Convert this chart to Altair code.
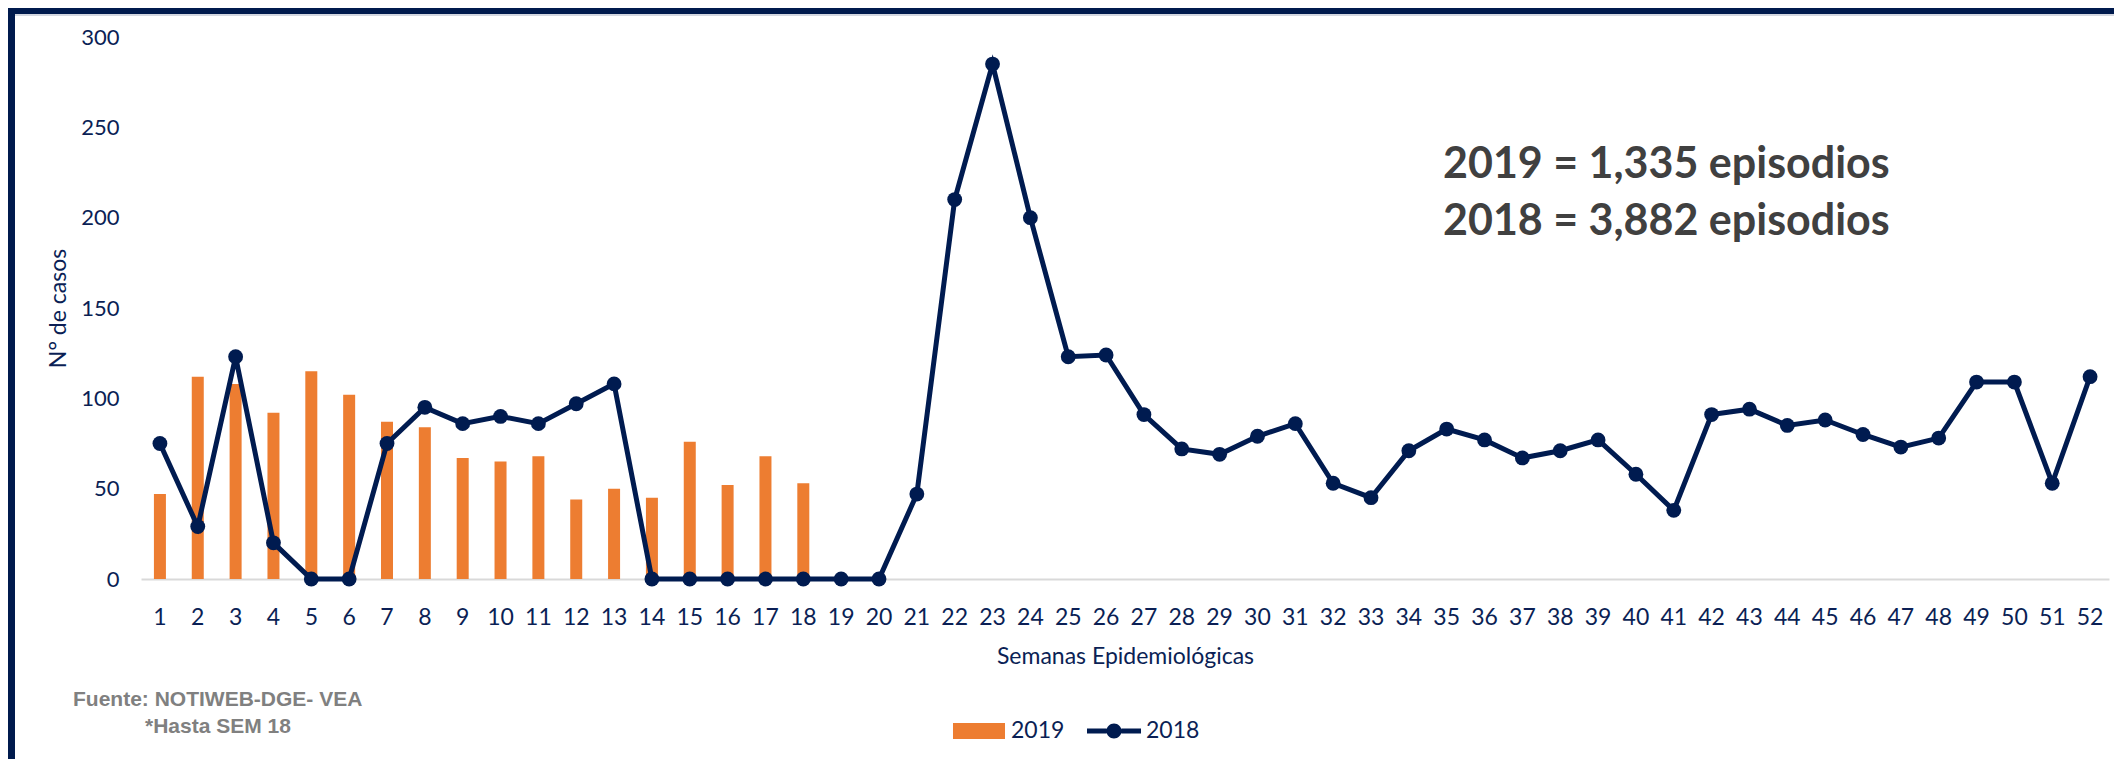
import altair as alt
import pandas as pd

# ---- data ----
weeks = [str(i) for i in range(1, 53)]
cases_2019 = [47, 112, 108, 92, 115, 102, 87, 84, 67, 65, 68, 44, 50, 45, 76, 52, 68, 53]
cases_2018 = [75, 29, 123, 20, 0, 0, 75, 95, 86, 90, 86, 97, 108,
              0, 0, 0, 0, 0, 0, 0,
              47, 210, 285, 200, 123, 124,
              91, 72, 69, 79, 86, 53, 45, 71, 83, 77, 67, 71, 77,
              58, 38, 91, 94, 85, 88, 80, 73, 78, 109, 109, 53, 112]
series_names = ["2019", "2018"]
y_ticks = [0, 50, 100, 150, 200, 250, 300]
summary_lines = ["2019 = 1,335 episodios", "2018 = 3,882 episodios"]
source_line1 = "Fuente: NOTIWEB-DGE- VEA"
source_line2 = "*Hasta SEM 18"
x_title = "Semanas Epidemiológicas"
y_title = "N° de casos"

# ---- styling ----
ORANGE = "#ED7D31"
NAVY = "#0B1F55"
LINE_NAVY = "#001B50"
BORDER = "#001A4D"
FONT = "Lato"

W, H = 1968, 542
PAD = {"left": 133, "top": 29, "right": 5, "bottom": 180}

bars_df = pd.DataFrame({"semana": weeks[:len(cases_2019)], "casos": cases_2019, "serie": series_names[0]})
line_df = pd.DataFrame({"semana": weeks, "casos": cases_2018, "serie": series_names[1]})
all_df = pd.concat([bars_df, line_df], ignore_index=True)
one = pd.DataFrame({"k": [0]})

x_enc = alt.X(
    "semana:O",
    sort=weeks,
    scale=alt.Scale(type="band", domain=weeks, paddingInner=0, paddingOuter=0),
    axis=alt.Axis(
        title=x_title, labelAngle=0, ticks=False, tickSize=0, grid=False,
        domainColor="#D9D9D9", domainWidth=2,
        labelPadding=38, labelBaseline="middle", labelFont=FONT, labelFontSize=23,
        labelColor=NAVY, titleFont=FONT, titleFontSize=23, titleFontWeight="normal",
        titleColor=NAVY, titleX=W / 2, titleY=77, titleBaseline="middle", titleAlign="center",
    ),
)
y_enc = alt.Y(
    "casos:Q",
    scale=alt.Scale(domain=[0, 300], nice=False),
    axis=alt.Axis(
        title=y_title, values=y_ticks, domain=False, ticks=False, tickSize=0, grid=False,
        labelPadding=22, labelFont=FONT, labelFontSize=22, labelColor=NAVY,
        titleFont=FONT, titleFontSize=23, titleFontWeight="normal", titleColor=NAVY,
        titleX=-83, titleY=H / 2, titleAngle=270, titleBaseline="middle", titleAlign="center",
    ),
)

bars = alt.Chart(bars_df).mark_bar(size=12, color=ORANGE).encode(x=x_enc, y=y_enc)
line = alt.Chart(line_df).mark_line(color=LINE_NAVY, strokeWidth=5).encode(x=x_enc, y=y_enc)
points = alt.Chart(line_df).mark_point(filled=True, color=LINE_NAVY, size=220, opacity=1).encode(x=x_enc, y=y_enc)

rect_path = "M-0.963,-0.296H0.963V0.296H-0.963Z"
line_path = ("M-1,-0.09H-0.27V0.09H-1Z M0.27,-0.09H1V0.09H0.27Z "
             "M0.278,0A0.278,0.278 0 1,1 -0.278,0A0.278,0.278 0 1,1 0.278,0Z")
leg = alt.Legend(
    title=None, orient="none", legendX=811, legendY=667, direction="horizontal",
    symbolSize=2916, symbolStrokeWidth=0, symbolOpacity=1, labelFont=FONT,
    labelFontSize=23, labelColor=NAVY, labelOffset=5, columnPadding=22, padding=0,
)
legend_layer = alt.Chart(all_df).mark_point(filled=True, opacity=0, size=1).encode(
    x=x_enc, y=y_enc,
    color=alt.Color("serie:N", scale=alt.Scale(domain=series_names, range=[ORANGE, LINE_NAVY]), legend=leg),
    shape=alt.Shape("serie:N", scale=alt.Scale(domain=series_names, range=[rect_path, line_path]), legend=leg),
)

summary = alt.Chart(one).mark_text(
    text=summary_lines, lineHeight=57, align="left", baseline="middle",
    font=FONT, fontSize=43, fontWeight="bold", color="#404040",
).encode(x=alt.value(1302), y=alt.value(128))

src1 = alt.Chart(one).mark_text(
    text=source_line1, align="left", baseline="middle",
    font="Liberation Sans", fontSize=21, fontWeight="bold", color="#808080",
).encode(x=alt.value(-68), y=alt.value(663))
src2 = alt.Chart(one).mark_text(
    text=source_line2, align="left", baseline="middle",
    font="Liberation Sans", fontSize=21, fontWeight="bold", color="#808080",
).encode(x=alt.value(4), y=alt.value(690))

top_band = alt.Chart(one).mark_rect(color=BORDER).encode(
    x=alt.value(-PAD["left"]), x2=alt.value(W + PAD["right"]), y=alt.value(-PAD["top"]), y2=alt.value(-PAD["top"] + 6))
top_strip = alt.Chart(one).mark_rect(color="#D3D7E0").encode(
    x=alt.value(-PAD["left"]), x2=alt.value(W + PAD["right"]), y=alt.value(-PAD["top"] + 6), y2=alt.value(-PAD["top"] + 8))
left_band = alt.Chart(one).mark_rect(color=BORDER).encode(
    x=alt.value(-PAD["left"]), x2=alt.value(-PAD["left"] + 7), y=alt.value(-PAD["top"]), y2=alt.value(H + PAD["bottom"]))

chart = alt.layer(
    bars, line, points, legend_layer, summary, src1, src2, top_strip, top_band, left_band
).properties(
    width=W, height=H, padding=PAD, autosize=alt.AutoSizeParams(type="none"),
).configure(
    font=FONT, background="white",
).configure_view(stroke=None)

chart.save("out.html", embed_options={"renderer": "svg", "actions": False})
